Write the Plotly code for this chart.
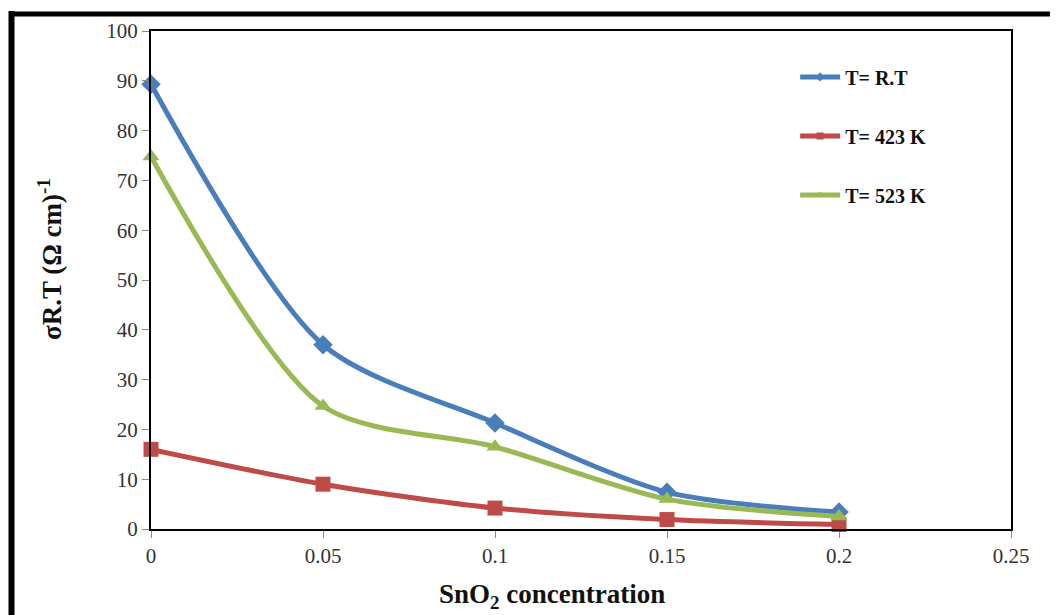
import plotly.graph_objects as go

x_conc = [0, 0.05, 0.1, 0.15, 0.2]
sigma_rt = [89.3, 37.0, 21.3, 7.4, 3.4]
sigma_423 = [16.0, 9.0, 4.2, 1.9, 0.9]
sigma_523 = [74.8, 24.7, 16.5, 6.0, 2.5]
series_names = ["T= R.T", "T= 423 K", "T= 523 K"]

colors = ["#4a7ebb", "#be4b48", "#98b954"]
symbols = ["diamond", "square", "triangle-up"]

fig = go.Figure()
for i, (name, vals) in enumerate(zip(series_names, [sigma_rt, sigma_423, sigma_523])):
    fig.add_trace(go.Scatter(
        x=x_conc, y=vals, name=name, mode="lines+markers",
        line=dict(color=colors[i], width=5, shape="spline", smoothing=0.8),
        marker=dict(symbol=symbols[i], size=15, color=colors[i]),
        legendgroup=f"g{i}", showlegend=False,
        cliponaxis=False,
    ))
    # legend entry with the small marker glyph seen in the reference legend
    fig.add_trace(go.Scatter(
        x=[None], y=[None], name=name, mode="lines+markers",
        line=dict(color=colors[i], width=5),
        marker=dict(symbol=symbols[i], size=7, color=colors[i]),
        legendgroup=f"g{i}", showlegend=True,
    ))

serif = "Liberation Serif, Times New Roman, serif"
# page body has an 8px margin; figure sized so that plot area lands at x 151..1011, y 31..529
fig.update_layout(
    width=1050, height=607,
    margin=dict(l=143, r=47, t=23, b=86),
    paper_bgcolor="white", plot_bgcolor="white",
    font=dict(family=serif, color="#222222"),
    showlegend=True,
    legend=dict(
        x=0.749, y=0.947, xanchor="left", yanchor="top",
        font=dict(family=serif, size=20, color="#111111", weight="bold"),
        tracegroupgap=30, bgcolor="rgba(0,0,0,0)",
        itemwidth=40,
    ),
    xaxis=dict(
        range=[0, 0.25], tickvals=[0, 0.05, 0.1, 0.15, 0.2, 0.25],
        ticktext=["0", "0.05", "0.1", "0.15", "0.2", "0.25"],
        showgrid=False, zeroline=False,
        showline=True, linecolor="black", linewidth=2, mirror=True,
        ticks="outside", ticklen=7, tickcolor="#888888", tickwidth=1,
        tickfont=dict(family=serif, size=21, color="#333333"),
        automargin=False,
    ),
    yaxis=dict(
        range=[0, 100], dtick=10,
        showgrid=False, zeroline=False,
        showline=True, linecolor="black", linewidth=2, mirror=True,
        ticks="outside", ticklen=7, tickcolor="#888888", tickwidth=1,
        tickfont=dict(family=serif, size=21, color="#333333"),
        automargin=False,
    ),
    annotations=[
        dict(text="σR.T (Ω cm)<sup>-1</sup>", xref="paper", yref="paper",
             x=(50 - 151) / 860, y=(529 - 259) / 498, xanchor="center", yanchor="middle",
             textangle=-90, showarrow=False,
             font=dict(family=serif, size=27, color="#111111", weight="bold")),
        dict(text="SnO<sub>2</sub> concentration", xref="paper", yref="paper",
             x=(552 - 151) / 860, y=(529 - 596) / 498, xanchor="center", yanchor="middle",
             showarrow=False,
             font=dict(family=serif, size=27, color="#111111", weight="bold")),
    ],
    shapes=[
        dict(type="line", xref="paper", yref="paper",
             x0=(11.5 - 151) / 860, x1=(11.5 - 151) / 860,
             y0=(529 - 11) / 498, y1=(529 - 640) / 498,
             line=dict(color="black", width=6)),
        dict(type="line", xref="paper", yref="paper",
             x0=(9 - 151) / 860, x1=(1080 - 151) / 860,
             y0=(529 - 14) / 498, y1=(529 - 14) / 498,
             line=dict(color="black", width=5)),
    ],
)

fig.write_html("out.html")
